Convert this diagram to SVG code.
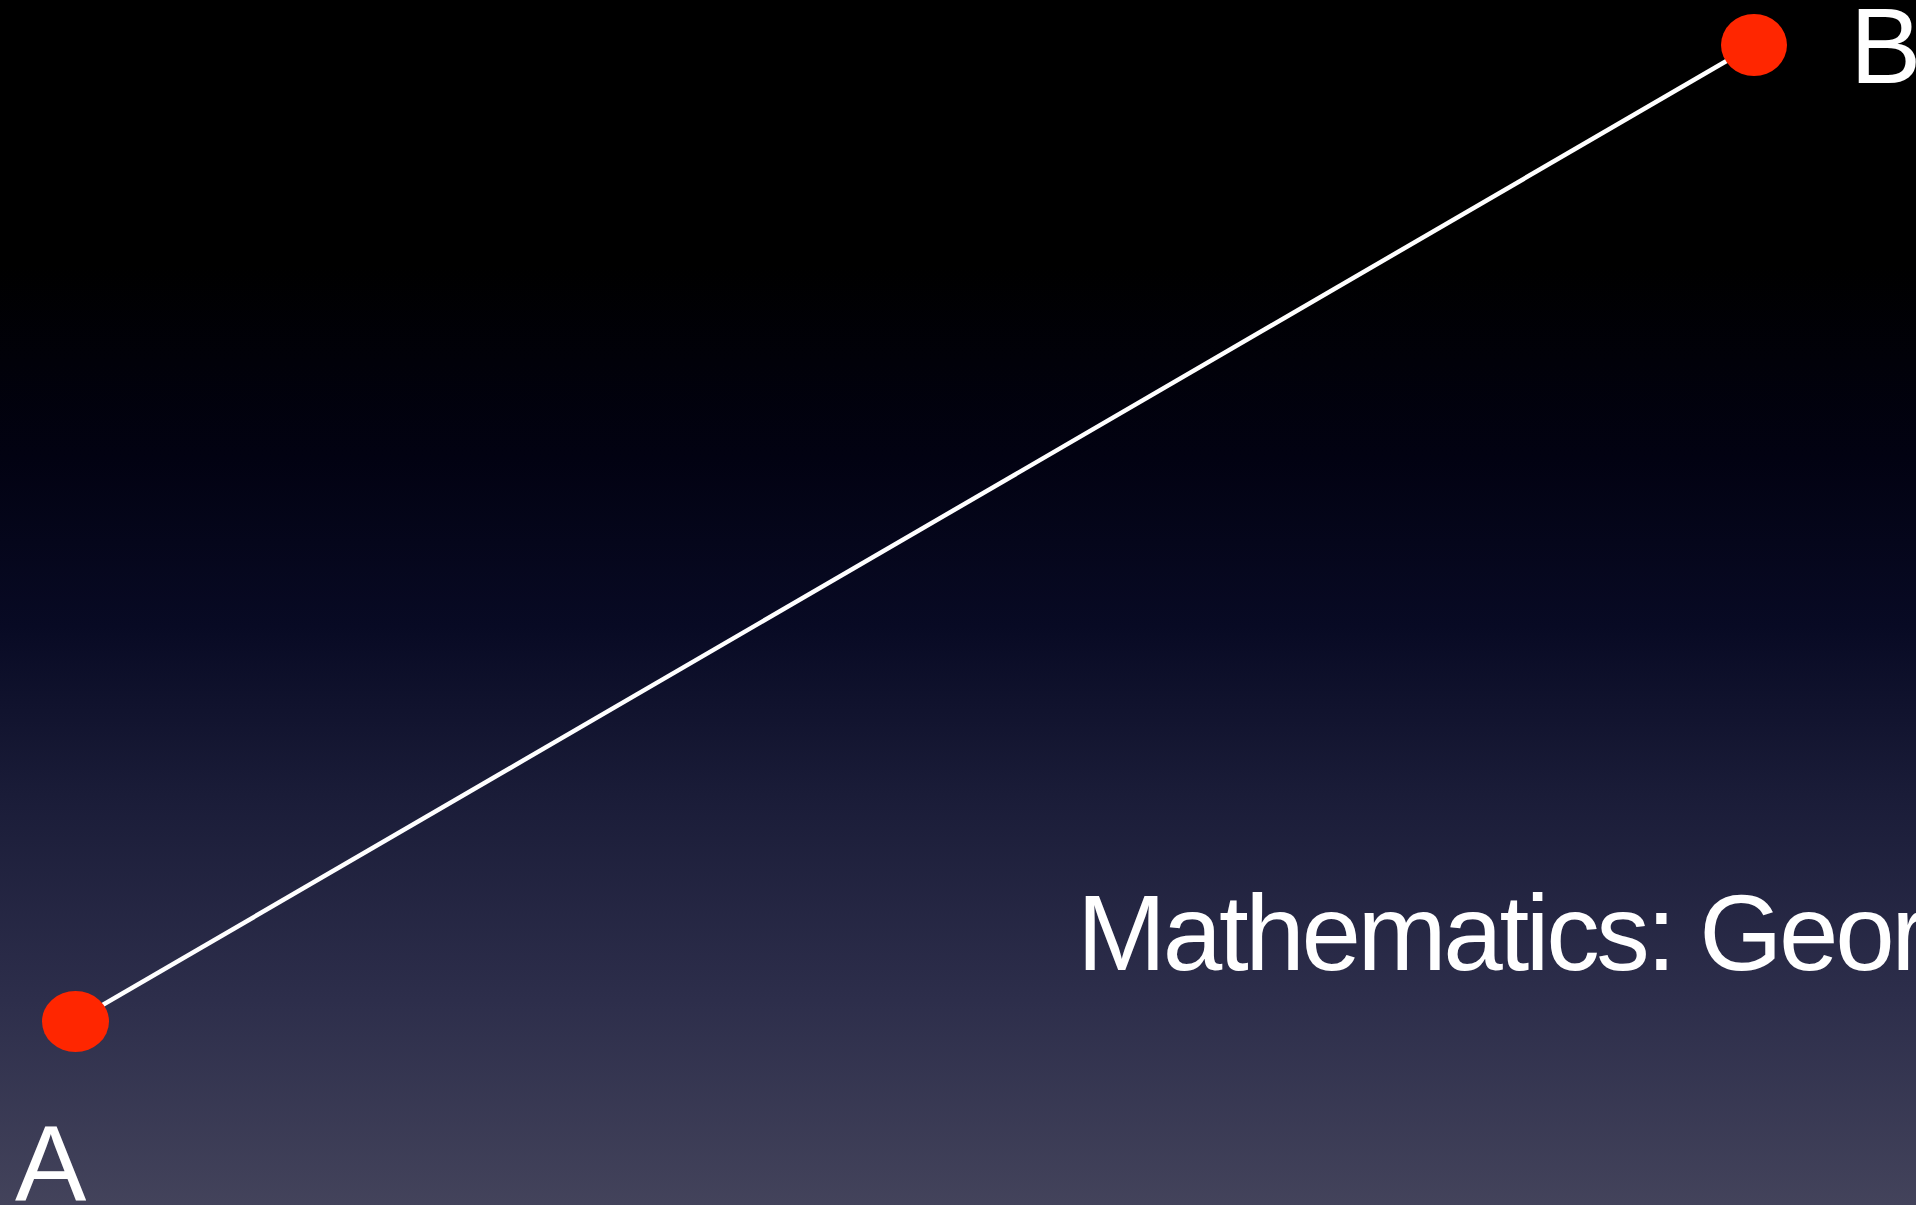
<svg xmlns="http://www.w3.org/2000/svg" width="1916" height="1205" viewBox="0 0 1916 1205">
  <defs>
    <linearGradient id="bg" x1="0" y1="0" x2="0" y2="1">
      <stop offset="0" stop-color="#000000"/>
      <stop offset="0.22" stop-color="#000000"/>
      <stop offset="0.38" stop-color="#020212"/>
      <stop offset="0.52" stop-color="#080a24"/>
      <stop offset="0.66" stop-color="#1a1c38"/>
      <stop offset="0.83" stop-color="#2d2e4b"/>
      <stop offset="1" stop-color="#43435b"/>
    </linearGradient>
    <style>
      .lbl { font-family: "Liberation Sans", Arial, sans-serif; fill: #ffffff; font-size: 107px; }
      .pt { fill: #ff2600; }
      .seg { stroke: #ffffff; stroke-width: 4.5; fill: none; }
    </style>
  </defs>
  <rect width="1916" height="1205" fill="url(#bg)"/>
  <g id="connectors">
    <line class="seg" x1="1754" y1="45" x2="75" y2="1021"/>
  </g>
  <g id="node-B">
    <ellipse class="pt" cx="1754" cy="45" rx="33" ry="31"/>
    <text class="lbl" x="1850" y="83">B</text>
  </g>
  <g id="node-A">
    <ellipse class="pt" cx="75.5" cy="1021.5" rx="33.5" ry="30.5"/>
    <text class="lbl" x="15" y="1201">A</text>
  </g>
  <g id="title">
    <text class="lbl" x="1077" y="970" textLength="850" lengthAdjust="spacing">Mathematics: Geor</text>
  </g>
</svg>
